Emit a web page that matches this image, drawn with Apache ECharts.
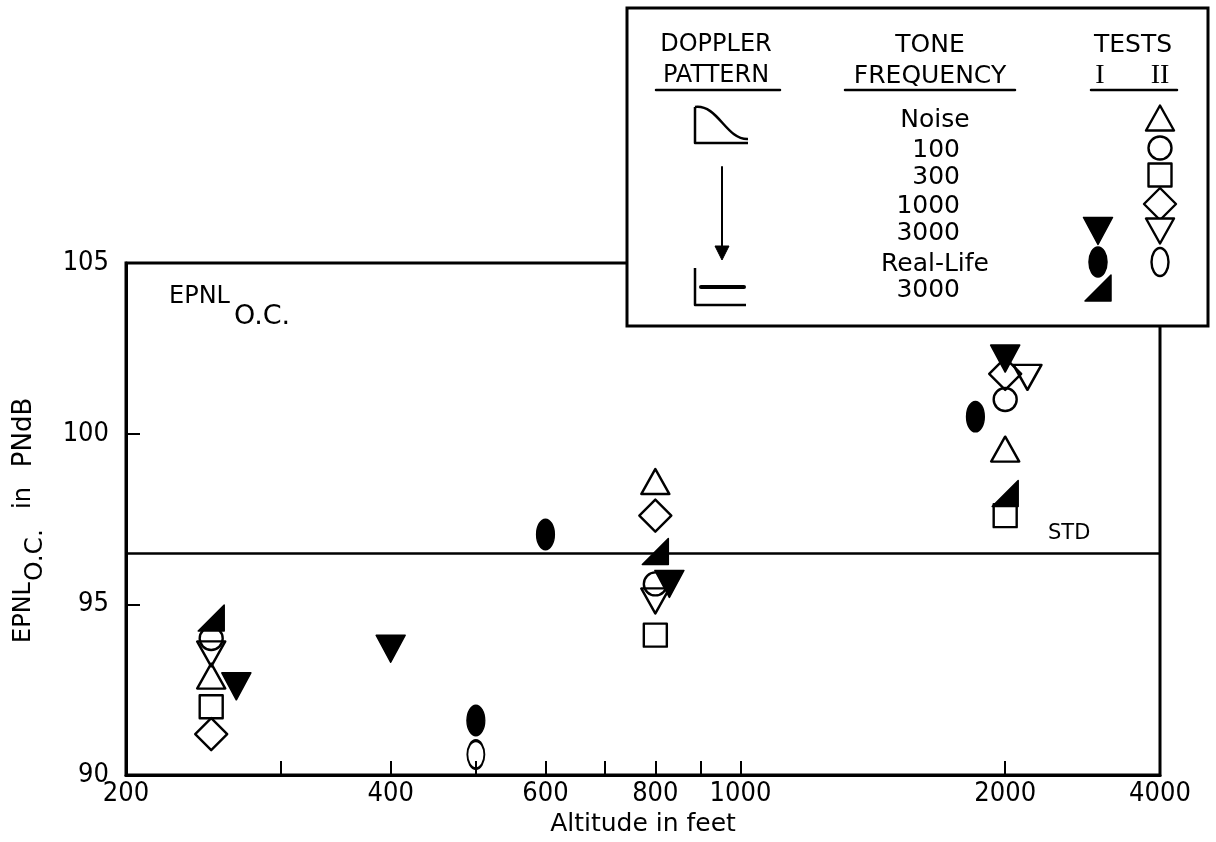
<!DOCTYPE html>
<html>
<head>
<meta charset="utf-8">
<title>EPNL O.C. versus altitude</title>
<script src="https://cdn.jsdelivr.net/npm/echarts@6/dist/echarts.min.js"></script>
<style>
  html, body { margin: 0; padding: 0; background: #fff; }
  #chart { width: 1216px; height: 842px; }
</style>
</head>
<body>
<div id="chart"></div>
<script>
// ---- measurements: [altitude in feet, EPNL O.C. in PNdB] ----
const noiseTestII       = [[250, 92.9], [800, 98.6], [2000, 99.55]];
const tone100TestII     = [[250, 94.0], [800, 95.6], [2000, 101.0]];
const tone300TestII     = [[250, 92.0], [800, 94.1], [2000, 97.6]];
const tone1000TestII    = [[250, 91.2], [800, 97.6], [2000, 101.75]];
const tone3000TestII    = [[250, 93.55], [800, 95.1], [2120, 101.65]];
const realLifeTestII    = [[500, 90.6]];
const tone3000TestI     = [[267, 92.6], [400, 93.7], [830, 95.6], [2000, 102.2]];
const realLifeTestI     = [[500, 91.6], [600, 97.05], [1850, 100.5]];
const realLife3000TestI = [[250, 94.6], [800, 96.55], [2000, 98.25]];

// standard reference level (horizontal line)
const stdLevel = 96.5;

// axes
const xRange     = [200, 3000];
const xTickFeet  = [300, 400, 500, 600, 700, 800, 900, 1000, 2000];
const xLabelFeet = [200, 400, 600, 800, 1000, 2000, 3000];
const xLabelText = ['200', '400', '600', '800', '1000', '2000', '4000'];
const yRange     = [90, 105];
const yStep      = 5;

// legend table rows
const toneRows = ['Noise', '100', '300', '1000', '3000', 'Real-Life', '3000'];

// ---- styling ----
const FONT = '"DejaVu Sans", sans-serif';
const FONT_NUM = '"DejaVu Sans Condensed", "DejaVu Sans", sans-serif';
const FONT_ROMAN = '"Liberation Serif", serif';
const lg = v => Math.log10(v);

// marker outlines in a unit box
const SHAPES = {
  triUp:   [[0.5, 0], [1, 1], [0, 1]],
  triDown: [[0, 0], [1, 0], [0.5, 1]],
  diamond: [[0.5, 0], [1, 0.5], [0.5, 1], [0, 0.5]],
  square:  [[0, 0], [1, 0], [1, 1], [0, 1]],
  wedge:   [[1, 0], [1, 1], [0, 1]]
};
const ROUND_PATH = 'path://M0,50 A50,50 0 1,1 100,50 A50,50 0 1,1 0,50 Z';

function symbolPath(shape) {
  if (shape === 'circle' || shape === 'ellipse') return ROUND_PATH;
  return 'path://M' + SHAPES[shape].map(p => (p[0] * 100) + ',' + (p[1] * 100)).join(' L') + ' Z';
}

const seriesSpecs = [
  { name: 'Noise II',         data: noiseTestII,       shape: 'triUp',   size: [28, 25], filled: false },
  { name: '100 II',           data: tone100TestII,     shape: 'circle',  size: [23, 23], filled: false },
  { name: '300 II',           data: tone300TestII,     shape: 'square',  size: [23, 23], filled: false },
  { name: '1000 II',          data: tone1000TestII,    shape: 'diamond', size: [32, 32], filled: false },
  { name: '3000 II',          data: tone3000TestII,    shape: 'triDown', size: [28, 25], filled: false },
  { name: 'Real-Life II',     data: realLifeTestII,    shape: 'ellipse', size: [17, 28], filled: false },
  { name: '3000 I',           data: tone3000TestI,     shape: 'triDown', size: [29, 27], filled: true },
  { name: 'Real-Life I',      data: realLifeTestI,     shape: 'ellipse', size: [18, 30], filled: true },
  { name: 'Real-Life 3000 I', data: realLife3000TestI, shape: 'wedge',   size: [26, 26], filled: true }
];

const series = seriesSpecs.map(s => ({
  type: 'scatter',
  name: s.name,
  data: s.data.map(d => [lg(d[0]), d[1]]),
  symbol: symbolPath(s.shape),
  symbolSize: s.size,
  itemStyle: s.filled
    ? { color: '#000', borderColor: '#000', borderWidth: 1.5, borderJoin: 'round', opacity: 1 }
    : { color: 'rgba(0,0,0,0)', borderColor: '#000', borderWidth: 2.4, borderJoin: 'round', opacity: 1 },
  emphasis: { disabled: true },
  z: s.filled ? 4 : 3,
  animation: false
}));

// the STD reference line
series[0].markLine = {
  silent: true,
  symbol: ['none', 'none'],
  lineStyle: { color: '#000', width: 2.5, type: 'solid' },
  label: { show: false },
  emphasis: { disabled: true },
  data: [{ yAxis: stdLevel }],
  animation: false
};

function xLabel(v) {
  for (let i = 0; i < xLabelFeet.length; i++) {
    if (Math.abs(lg(xLabelFeet[i]) - v) < 1e-6) return xLabelText[i];
  }
  return '';
}

const chart = echarts.init(document.getElementById('chart'), null, { renderer: 'canvas' });

chart.setOption({
  animation: false,
  backgroundColor: '#fff',
  grid: {
    left: 126, right: 56, top: 263, bottom: 64,
    show: true, borderColor: '#000', borderWidth: 3, backgroundColor: 'transparent'
  },
  xAxis: {
    type: 'value',
    min: lg(xRange[0]),
    max: lg(xRange[1]),
    name: 'Altitude in feet',
    nameLocation: 'middle',
    nameGap: 35,
    nameTextStyle: { fontFamily: FONT, fontSize: 25, color: '#000' },
    axisLine: { show: true, onZero: false, lineStyle: { color: '#000', width: 3 } },
    axisTick: { show: true, inside: true, length: 14, lineStyle: { color: '#000', width: 2 },
                customValues: xTickFeet.map(lg) },
    axisLabel: { show: true, customValues: xLabelFeet.map(lg), margin: 5,
                 fontFamily: FONT_NUM, fontSize: 27, color: '#000', formatter: xLabel },
    splitLine: { show: false }
  },
  yAxis: {
    type: 'value',
    min: yRange[0],
    max: yRange[1],
    interval: yStep,
    axisLine: { show: true, lineStyle: { color: '#000', width: 3 } },
    axisTick: { show: true, inside: true, length: 14, lineStyle: { color: '#000', width: 2 } },
    axisLabel: { margin: 17, fontFamily: FONT_NUM, fontSize: 27, color: '#000' },
    splitLine: { show: false }
  },
  series: series
});

// ---- annotations and the legend table ----
const Z = 50;
const measureCtx = document.createElement('canvas').getContext('2d');
function textWidth(text, size, family) {
  measureCtx.font = size + 'px ' + (family || FONT);
  return measureCtx.measureText(text).width;
}
function txt(text, x, y, size, align, extra, family) {
  return Object.assign({
    type: 'text', x: x, y: y, z: Z,
    style: { text: text, fontFamily: family || FONT, fontSize: size, fill: '#000',
             align: align || 'center', verticalAlign: 'middle',
             textAlign: align || 'center', textVerticalAlign: 'middle' }
  }, extra || {});
}
function line(x1, y1, x2, y2, w) {
  return { type: 'line', z: Z, shape: { x1: x1, y1: y1, x2: x2, y2: y2 },
           style: { stroke: '#000', lineWidth: w || 2.5, lineCap: 'round' } };
}
function legendSymbol(shape, size, filled, cx, cy) {
  const w = size[0], h = size[1];
  const style = { fill: filled ? '#000' : '#fff', stroke: '#000',
                  lineWidth: filled ? 1.5 : 2.4, lineJoin: 'round' };
  if (shape === 'circle') return { type: 'circle', z: Z, shape: { cx: cx, cy: cy, r: w / 2 }, style: style };
  if (shape === 'ellipse') return { type: 'ellipse', z: Z, shape: { cx: cx, cy: cy, rx: w / 2, ry: h / 2 }, style: style };
  return { type: 'polygon', z: Z,
           shape: { points: SHAPES[shape].map(p => [cx - w / 2 + p[0] * w, cy - h / 2 + p[1] * h]) },
           style: style };
}

const graphics = [];

// plot annotation EPNL O.C.
graphics.push(txt('EPNL', 169, 297, 24, 'left'));
graphics.push(txt('O.C.', 234, 317, 27, 'left'));

// y-axis title, reading bottom to top, laid out piece by piece
const rot = { rotation: Math.PI / 2 };
const yTitleParts = [
  { text: 'EPNL', size: 24, x: 24, gapBefore: 0 },
  { text: 'O.C.', size: 25, x: 35, gapBefore: 1 },
  { text: 'in',   size: 24, x: 24, gapBefore: 20 },
  { text: 'PNdB', size: 26, x: 24, gapBefore: 20 }
];
let yCursor = 643;
yTitleParts.forEach(p => {
  const w = textWidth(p.text, p.size);
  yCursor -= p.gapBefore;
  graphics.push(txt(p.text, p.x, yCursor - w / 2, p.size, 'center', rot));
  yCursor -= w;
});

// STD label above the reference line
const stdPx = chart.convertToPixel({ gridIndex: 0 }, [lg(xRange[1]), stdLevel]);
graphics.push(txt('STD', stdPx[0] - 112, stdPx[1] - 20, 21, 'left'));

// legend frame
graphics.push({ type: 'rect', z: Z - 1, shape: { x: 627, y: 8, width: 581, height: 318 },
                style: { fill: '#fff', stroke: '#000', lineWidth: 3 } });

// column headings
graphics.push(txt('DOPPLER', 716, 45, 24));
graphics.push(txt('PATTERN', 716, 76, 24));
graphics.push(line(656, 90, 780, 90, 2.5));
graphics.push(txt('TONE', 930, 45, 25));
graphics.push(txt('FREQUENCY', 930, 76, 25));
graphics.push(line(845, 90, 1015, 90, 2.5));
graphics.push(txt('TESTS', 1133, 45, 25));
graphics.push(txt('I', 1100, 76, 28, 'center', null, FONT_ROMAN));
graphics.push(txt('II', 1160, 76, 28, 'center', null, FONT_ROMAN));
graphics.push(line(1091, 90, 1177, 90, 2.5));

// tone frequency rows
const rowY = [120, 150, 177, 206, 233, 264, 290];
toneRows.forEach((t, i) => {
  const isWord = isNaN(Number(t));
  graphics.push(isWord ? txt(t, 935, rowY[i], 25) : txt(t, 960, rowY[i], 25, 'right'));
});

// test II column (rows Noise .. Real-Life) and test I column (rows 3000 .. Real-Life 3000)
[0, 1, 2, 3, 4, 5].forEach((k, i) => {
  const s = seriesSpecs[k];
  graphics.push(legendSymbol(s.shape, s.size, false, 1160, rowY[i] - 2));
});
[6, 7, 8].forEach((k, i) => {
  const s = seriesSpecs[k];
  graphics.push(legendSymbol(s.shape, s.size, true, 1098, rowY[4 + i] - 2));
});

// doppler pattern sketches
graphics.push({ type: 'polyline', z: Z, shape: { points: [[695, 107], [695, 143], [748, 143]] },
                style: { stroke: '#000', lineWidth: 2.5, fill: null, lineJoin: 'round' } });
graphics.push({ type: 'bezierCurve', z: Z,
                shape: { x1: 695, y1: 107, cpx1: 718, cpy1: 104, cpx2: 726, cpy2: 140, x2: 748, y2: 139 },
                style: { stroke: '#000', lineWidth: 2.5, fill: null } });
graphics.push(line(722, 167, 722, 248, 2));
graphics.push({ type: 'polygon', z: Z, shape: { points: [[715, 246], [729, 246], [722, 260]] },
                style: { fill: '#000', stroke: '#000', lineWidth: 1, lineJoin: 'round' } });
graphics.push({ type: 'polyline', z: Z, shape: { points: [[695, 268], [695, 305], [746, 305]] },
                style: { stroke: '#000', lineWidth: 2.5, fill: null, lineJoin: 'round' } });
graphics.push(line(701, 287, 744, 287, 4));

chart.setOption({ graphic: { elements: graphics } });
</script>
</body>
</html>
